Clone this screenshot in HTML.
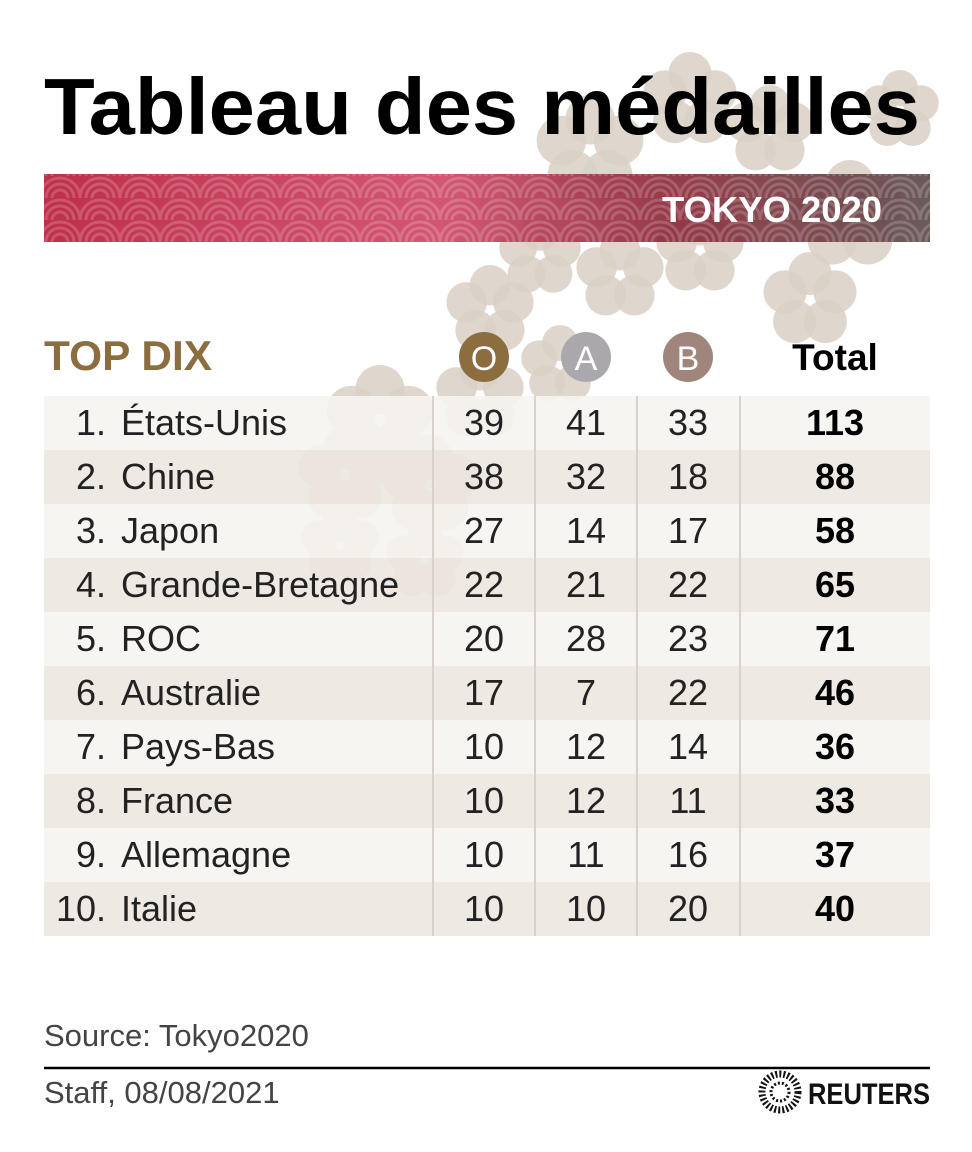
<!DOCTYPE html>
<html><head><meta charset="utf-8">
<style>
html,body{margin:0;padding:0;background:#fff;}
svg{display:block;}
text{font-family:"Liberation Sans",sans-serif;}
</style></head>
<body>
<svg id="root" width="972" height="1152" viewBox="0 0 972 1152" xmlns="http://www.w3.org/2000/svg">
<defs>
  <linearGradient id="bannerGrad" x1="0" x2="1" y1="0" y2="0">
    <stop offset="0" stop-color="#b81d3a"/>
    <stop offset="0.45" stop-color="#cf4868"/>
    <stop offset="0.7" stop-color="#8e2a3a"/>
    <stop offset="1" stop-color="#5e4c4c"/>
  </linearGradient>
  <pattern id="waves" width="40" height="22" patternUnits="userSpaceOnUse">
    <path d="M0 22 A20 20 0 0 1 40 22 M6 22 A14 14 0 0 1 34 22 M12 22 A8 8 0 0 1 28 22" fill="none" stroke="#ffffff" stroke-opacity="0.18" stroke-width="3"/>
  </pattern>
  <g id="flower">
    <circle cx="0" cy="-0.55" r="0.45"/>
    <circle cx="0.52" cy="-0.17" r="0.45"/>
    <circle cx="0.32" cy="0.45" r="0.45"/>
    <circle cx="-0.32" cy="0.45" r="0.45"/>
    <circle cx="-0.52" cy="-0.17" r="0.45"/>
  </g>
</defs>
<g id="flowers" fill="#d9d0c6" fill-opacity="0.85"></g>
<text x="44" y="134" font-size="80" font-weight="bold" fill="#000" textLength="876" lengthAdjust="spacingAndGlyphs">Tableau des médailles</text>
<g>
  <rect x="44" y="174" width="886" height="68" fill="url(#bannerGrad)" opacity="0.92"/>
  <rect x="44" y="174" width="886" height="68" fill="url(#waves)"/>
  <text x="662" y="222" font-size="36" font-weight="bold" fill="#fff" textLength="220" lengthAdjust="spacingAndGlyphs">TOKYO 2020</text>
</g>
<g id="header">
  <text x="44" y="370" font-size="42" font-weight="bold" fill="#8c6d3f" textLength="168" lengthAdjust="spacingAndGlyphs">TOP DIX</text>
  <circle cx="484" cy="357" r="25" fill="#8c6d3f"/>
  <text x="484" y="370" font-size="34" fill="#fff" text-anchor="middle">O</text>
  <circle cx="586" cy="357" r="25" fill="#aaa8ad"/>
  <text x="586" y="370" font-size="34" fill="#fff" text-anchor="middle">A</text>
  <circle cx="688" cy="357" r="25" fill="#9f857c"/>
  <text x="688" y="370" font-size="34" fill="#fff" text-anchor="middle">B</text>
  <text x="835" y="370" font-size="37" font-weight="bold" fill="#000" text-anchor="middle">Total</text>
</g>
<g id="rows"></g>
<text x="44" y="1046" font-size="31" fill="#444">Source: Tokyo2020</text>
<line x1="44" y1="1068" x2="930" y2="1068" stroke="#000" stroke-width="2.5"/>
<text x="44" y="1103" font-size="31" fill="#444">Staff, 08/08/2021</text>
<g>
  <circle cx="780" cy="1092" r="18" fill="none" stroke="#111" stroke-width="7" stroke-dasharray="2 2"/>
  <circle cx="780" cy="1092" r="9" fill="none" stroke="#111" stroke-width="3" stroke-dasharray="2 2"/>
  <text x="808" y="1104" font-size="30" font-weight="bold" fill="#111" textLength="122" lengthAdjust="spacingAndGlyphs">REUTERS</text>
</g>
</svg>
<script>
const NS="http://www.w3.org/2000/svg";
const countries=["États-Unis","Chine","Japon","Grande-Bretagne","ROC","Australie","Pays-Bas","France","Allemagne","Italie"];
const gold=[39,38,27,22,20,17,10,10,10,10];
const silver=[41,32,14,21,28,7,12,12,11,10];
const bronze=[33,18,17,22,23,22,14,11,16,20];
const totals=[113,88,58,65,71,46,36,33,37,40];
const flowerSpots=[[590,150,55],[690,100,48],[770,130,45],[850,215,55],[810,300,48],[700,250,45],[620,275,45],[540,255,42],[490,310,45],[560,365,40],[480,395,45],[380,420,55],[345,475,48],[430,485,50],[340,545,40],[425,560,40],[900,110,40]];
const fg=document.getElementById('flowers');
flowerSpots.forEach(f=>{
  const u=document.createElementNS(NS,'use');
  u.setAttribute('href','#flower');
  u.setAttribute('transform',`translate(${f[0]},${f[1]}) scale(${f[2]})`);
  
  
  fg.appendChild(u);
});
const rg=document.getElementById('rows');
const top0=396,rh=54;
function txt(x,y,s,opts){const t=document.createElementNS(NS,'text');t.setAttribute('x',x);t.setAttribute('y',y);t.setAttribute('font-size',opts.size||36);t.setAttribute('fill','#222');if(opts.anchor)t.setAttribute('text-anchor',opts.anchor);if(opts.bold){t.setAttribute('font-weight','bold');t.setAttribute('fill','#000');}t.textContent=s;rg.appendChild(t);return t;}
countries.forEach((c,i)=>{
  const y=top0+i*rh;
  const r=document.createElementNS(NS,'rect');
  r.setAttribute('x',44);r.setAttribute('y',y);r.setAttribute('width',886);r.setAttribute('height',rh);
  r.setAttribute('fill',i%2===0?'#f6f4f1':'#ede7e0');
  r.setAttribute('fill-opacity','0.9');
  
  
  rg.appendChild(r);
  const b=y+39;
  const n=txt(106,b,(i+1)+'.',{anchor:'end'});
  
  
  const nm=txt(121,b,c,{});
  
  
  const g=txt(484,b,gold[i],{anchor:'middle'});
  
  
  const s=txt(586,b,silver[i],{anchor:'middle'});
  
  
  const br=txt(688,b,bronze[i],{anchor:'middle'});
  
  
  const t=txt(835,b,totals[i],{anchor:'middle',bold:true});
  
  
});
[433,535,637,740].forEach(x=>{
  const l=document.createElementNS(NS,'line');
  l.setAttribute('x1',x);l.setAttribute('x2',x);l.setAttribute('y1',top0);l.setAttribute('y2',top0+rh*countries.length);
  l.setAttribute('stroke','#d8d2cb');l.setAttribute('stroke-width','2');
  
  
  rg.appendChild(l);
});
</script>
</body></html>
